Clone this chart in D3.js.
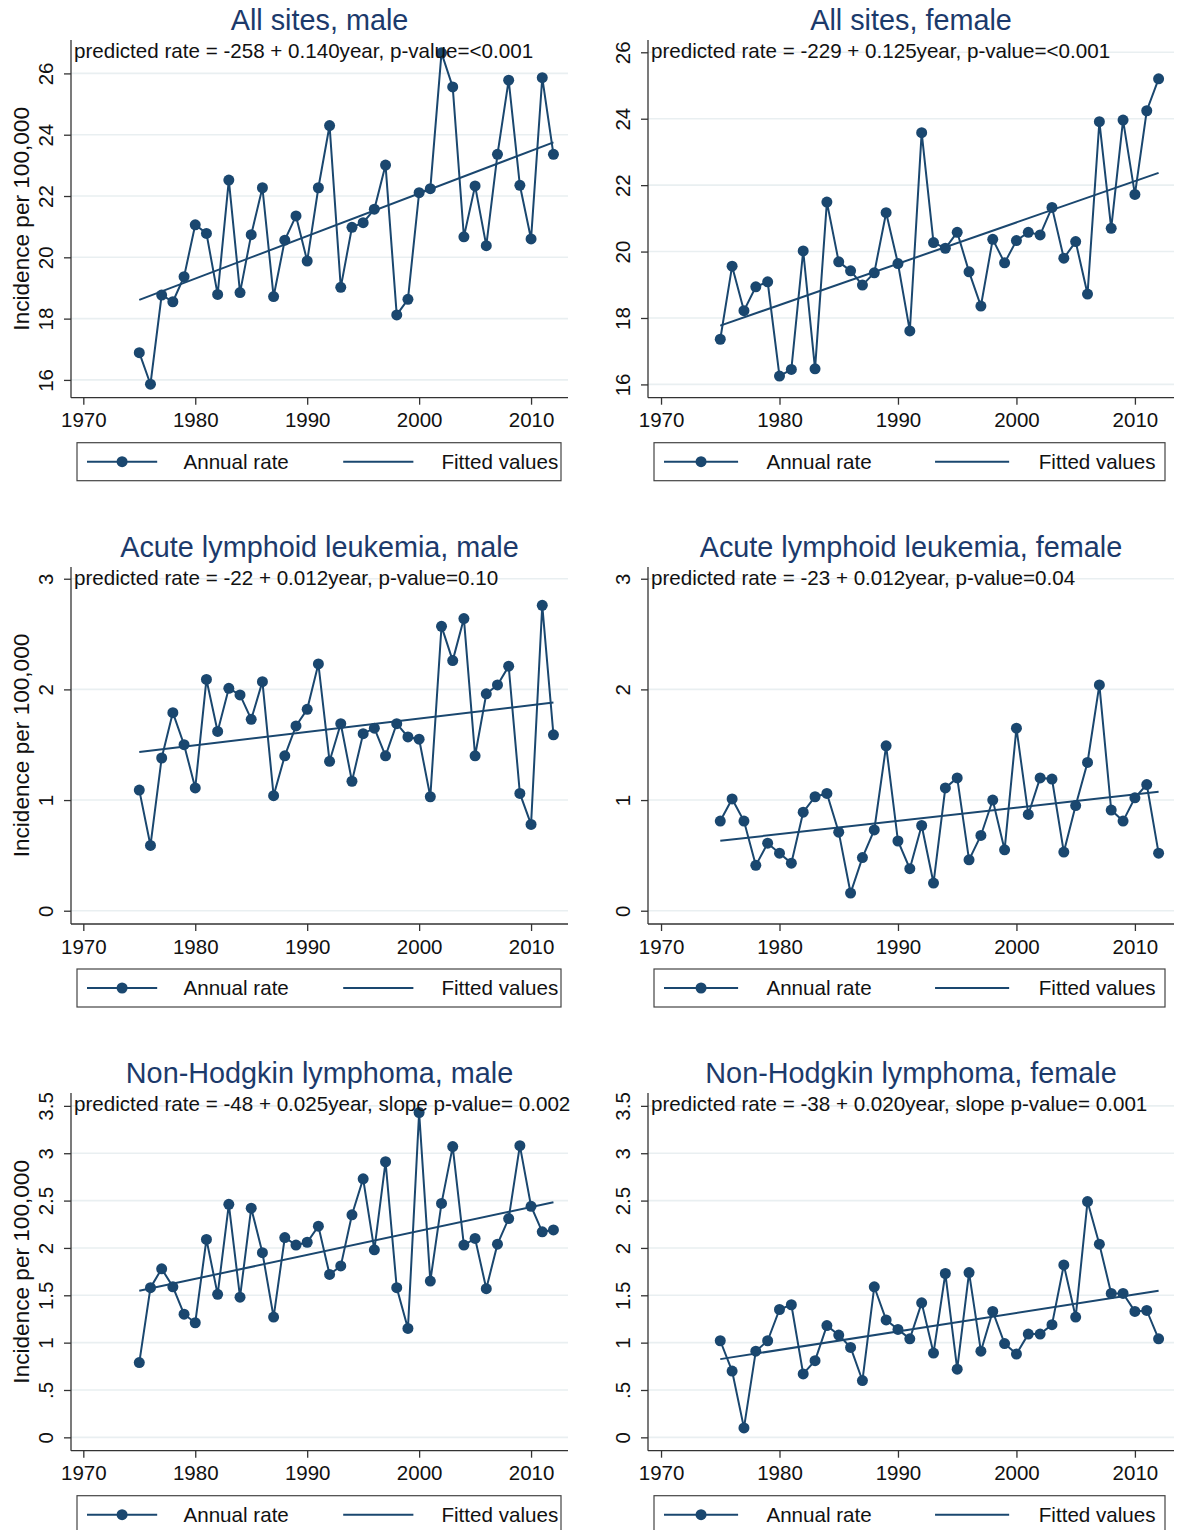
<!DOCTYPE html>
<html lang="en">
<head>
    <meta charset="UTF-8">
    <title>Incidence trends</title>
    <script src="https://d3js.org/d3.v7.min.js"></script>
    <style>
        body{
            margin: 0;
            background-color: white;
        }
        svg text{
            font-family: "Liberation Sans", Arial, sans-serif;
        }
    </style>
</head>
<body>

<svg id="canvas" width="1179" height="1530"></svg>

<script>
    // data, one value per year
    let years = [1975,1976,1977,1978,1979,1980,1981,1982,1983,1984,1985,1986,1987,1988,1989,1990,1991,1992,1993,
        1994,1995,1996,1997,1998,1999,2000,2001,2002,2003,2004,2005,2006,2007,2008,2009,2010,2011,2012];

    let allMale = [16.89,15.86,18.77,18.55,19.37,21.06,20.78,18.79,22.52,18.85,20.74,22.27,18.72,20.56,21.35,19.88,22.27,24.30,19.02,
        20.98,21.13,21.57,23.01,18.12,18.63,22.11,22.24,26.67,25.56,20.67,22.33,20.38,23.36,25.78,22.35,20.60,25.86,23.36];
    let allFemale = [17.36,19.56,18.22,18.94,19.09,16.25,16.45,20.02,16.47,21.49,19.69,19.42,18.99,19.36,21.17,19.64,17.61,23.58,20.27,
        20.10,20.58,19.39,18.36,20.37,19.66,20.33,20.58,20.50,21.33,19.80,20.30,18.72,23.91,20.70,23.96,21.72,24.24,25.20];
    let allMale2 = [1.09,0.59,1.38,1.79,1.50,1.11,2.09,1.62,2.01,1.95,1.73,2.07,1.04,1.40,1.67,1.82,2.23,1.35,1.69,
        1.17,1.60,1.65,1.40,1.69,1.57,1.55,1.03,2.57,2.26,2.64,1.40,1.96,2.04,2.21,1.06,0.78,2.76,1.59];
    let allFemale2 = [0.81,1.01,0.81,0.41,0.61,0.52,0.43,0.89,1.03,1.06,0.71,0.16,0.48,0.73,1.49,0.63,0.38,0.77,0.25,
        1.11,1.20,0.46,0.68,1.00,0.55,1.65,0.87,1.20,1.19,0.53,0.95,1.34,2.04,0.91,0.81,1.02,1.14,0.52];
    let nhlMale = [0.79,1.58,1.78,1.59,1.30,1.21,2.09,1.51,2.46,1.48,2.42,1.95,1.27,2.11,2.03,2.06,2.23,1.72,1.81,
        2.35,2.73,1.98,2.91,1.58,1.15,3.43,1.65,2.47,3.07,2.03,2.10,1.57,2.04,2.31,3.08,2.44,2.17,2.19];
    let nhlFemale = [1.02,0.70,0.10,0.91,1.02,1.35,1.40,0.67,0.81,1.18,1.08,0.95,0.60,1.59,1.24,1.14,1.04,1.42,0.89,
        1.73,0.72,1.74,0.91,1.33,0.99,0.88,1.09,1.09,1.19,1.82,1.27,2.49,2.04,1.52,1.52,1.33,1.34,1.04];

    // fitted values at 1975 and 2012
    let fitStart = [18.61, 17.77, 1.435, 0.632, 1.547, 0.826];
    let fitEnd = [23.75, 22.37, 1.881, 1.075, 2.482, 1.547];

    let titles = ["All sites, male", "All sites, female",
        "Acute lymphoid leukemia, male", "Acute lymphoid leukemia, female",
        "Non-Hodgkin lymphoma, male", "Non-Hodgkin lymphoma, female"];
    let notes = ["predicted rate = -258 + 0.140year, p-value=<0.001",
        "predicted rate = -229 + 0.125year, p-value=<0.001",
        "predicted rate = -22 + 0.012year, p-value=0.10",
        "predicted rate = -23 + 0.012year, p-value=0.04",
        "predicted rate = -48 + 0.025year, slope p-value= 0.002",
        "predicted rate = -38 + 0.020year, slope p-value= 0.001"];

    let xTicks = [1970, 1980, 1990, 2000, 2010];
    let yTicksAll = [16, 18, 20, 22, 24, 26];
    let yTicksAll2 = [0, 1, 2, 3];
    let yTicksNhl = [0, 0.5, 1, 1.5, 2, 2.5, 3, 3.5];
    let yLabelsNhl = ["0", ".5", "1", "1.5", "2", "2.5", "3", "3.5"];

    let yTitle = "Incidence per 100,000";
    let legendLabels = ["Annual rate", "Fitted values"];

    let navy = "#1a476f";
    let titleColor = "#1c3a6b";

    // panel layout
    let rowTop = [40, 567, 1093];
    let rowBottom = [397.7, 924, 1450.7];
    let colLeft = [71, 648];
    let colRight = [568, 1174];
    let xDomain = [1968.9, 2013.3];
    let yDomains = [[15.42, 27.09], [15.60, 26.37], [-0.12, 3.106], [-0.12, 3.106], [-0.141, 3.636], [-0.141, 3.636]];

    let panels = [
        {values: allMale, ticks: yTicksAll, labels: null},
        {values: allFemale, ticks: yTicksAll, labels: null},
        {values: allMale2, ticks: yTicksAll2, labels: null},
        {values: allFemale2, ticks: yTicksAll2, labels: null},
        {values: nhlMale, ticks: yTicksNhl, labels: yLabelsNhl},
        {values: nhlFemale, ticks: yTicksNhl, labels: yLabelsNhl}
    ];

    let svg = d3.select('#canvas');

    panels.forEach(function (p, i) {
        let row = Math.floor(i / 2), col = i % 2;
        let top = rowTop[row], bottom = rowBottom[row];
        let left = colLeft[col], right = colRight[col];

        let x = d3.scaleLinear().domain(xDomain).range([left, right]);
        let y = d3.scaleLinear().domain(yDomains[i]).range([bottom, top]);
        let g = svg.append('g');

        // gridlines
        g.selectAll('line.grid')
            .data(p.ticks)
            .enter()
            .append('line')
            .attr("x1", left).attr("x2", right)
            .attr("y1", d => y(d)).attr("y2", d => y(d))
            .attr("stroke", "#e9eff1")
            .attr("stroke-width", 1.6);

        // y axis, labels turned like stata does
        let yAxis = g.append('g')
            .attr("transform", "translate(" + left + ",0)")
            .call(d3.axisLeft(y).tickValues(p.ticks).tickSize(7).tickPadding(0)
                .tickFormat((d, k) => p.labels ? p.labels[k] : d3.format("d")(d)));
        yAxis.select('.domain').remove();
        yAxis.selectAll('line').attr("stroke", "#333").attr("stroke-width", 1.3);
        yAxis.selectAll('text')
            .attr("x", 0).attr("y", 0).attr("dy", 0)
            .attr("transform", "translate(-26,0) rotate(-90)")
            .attr("text-anchor", "middle")
            .attr("dominant-baseline", "central")
            .style("font-size", "20.5px")
            .attr("fill", "#111");

        // x axis
        let xAxis = g.append('g')
            .attr("transform", "translate(0," + bottom + ")")
            .call(d3.axisBottom(x).tickValues(xTicks).tickSize(7).tickPadding(8).tickFormat(d3.format("d")));
        xAxis.select('.domain').remove();
        xAxis.selectAll('line').attr("stroke", "#333").attr("stroke-width", 1.3);
        xAxis.selectAll('text').style("font-size", "20.5px").attr("fill", "#111");

        // axis lines
        g.append('line')
            .attr("x1", left).attr("x2", left).attr("y1", top).attr("y2", bottom)
            .attr("stroke", "#333").attr("stroke-width", 1.3);
        g.append('line')
            .attr("x1", left).attr("x2", right).attr("y1", bottom).attr("y2", bottom)
            .attr("stroke", "#333").attr("stroke-width", 1.3);

        // fitted line
        g.append('line')
            .attr("x1", x(years[0])).attr("y1", y(fitStart[i]))
            .attr("x2", x(years[years.length - 1])).attr("y2", y(fitEnd[i]))
            .attr("stroke", navy).attr("stroke-width", 2);

        // annual rate
        let line = d3.line()
            .x((d, k) => x(years[k]))
            .y(d => y(d));
        g.append('path')
            .datum(p.values)
            .attr("d", line)
            .attr("fill", "none")
            .attr("stroke", navy)
            .attr("stroke-width", 2);
        g.selectAll('circle.pt')
            .data(p.values)
            .enter()
            .append('circle')
            .attr("cx", (d, k) => x(years[k]))
            .attr("cy", d => y(d))
            .attr("r", 5.5)
            .attr("fill", navy);

        // title and the regression note
        g.append('text')
            .attr("x", (left + right) / 2)
            .attr("y", top - 10)
            .attr("text-anchor", "middle")
            .style("font-size", "28.8px")
            .attr("fill", titleColor)
            .text(titles[i]);
        g.append('text')
            .attr("x", left + 3)
            .attr("y", top + 18)
            .style("font-size", "20.6px")
            .attr("fill", "#111")
            .text(notes[i]);

        if (col === 0) {
            g.append('text')
                .attr("transform", "translate(" + 29 + "," + ((top + bottom) / 2) + ") rotate(-90)")
                .attr("text-anchor", "middle")
                .style("font-size", "22.6px")
                .attr("fill", "#111")
                .text(yTitle);
        }

        // legend
        let bx = left + 6, bw = (right - left) - (col === 0 ? 13 : 15);
        let by = bottom + 45, bh = 38;
        let lg = g.append('g');
        lg.append('rect')
            .attr("x", bx).attr("y", by).attr("width", bw).attr("height", bh)
            .attr("fill", "white").attr("stroke", "#444").attr("stroke-width", 1.2);
        let keyLen = bw * 0.145;
        let keyX = [bx + 10, bx + bw * 0.55];
        keyX.forEach(function (kx) {
            lg.append('line')
                .attr("x1", kx).attr("x2", kx + keyLen)
                .attr("y1", by + bh / 2).attr("y2", by + bh / 2)
                .attr("stroke", navy).attr("stroke-width", 2);
        });
        lg.append('circle')
            .attr("cx", keyX[0] + keyLen / 2).attr("cy", by + bh / 2)
            .attr("r", 5.5).attr("fill", navy);
        lg.append('text')
            .attr("x", bx + bw * 0.22).attr("y", by + bh / 2 + 7)
            .style("font-size", "20.6px").attr("fill", "#111")
            .text(legendLabels[0]);
        lg.append('text')
            .attr("x", bx + bw * 0.753).attr("y", by + bh / 2 + 7)
            .style("font-size", "20.6px").attr("fill", "#111")
            .text(legendLabels[1]);
    });
</script>

</body>
</html>
